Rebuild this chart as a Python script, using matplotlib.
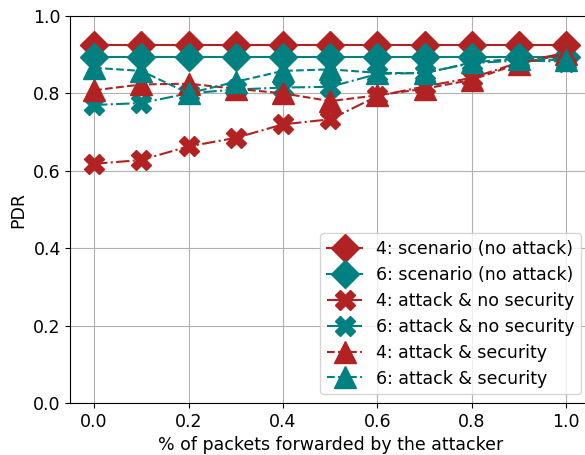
import matplotlib
matplotlib.use("Agg")
import matplotlib.pyplot as plt

# share of packets forwarded by the attacker
forwarded = [0.0, 0.1, 0.2, 0.3, 0.4, 0.5, 0.6, 0.7, 0.8, 0.9, 1.0]

# PDR per series
pdr_4_scenario = [0.925] * 11
pdr_6_scenario = [0.893] * 11
pdr_4_attack_nosec = [0.618, 0.628, 0.663, 0.685, 0.720, 0.733, 0.793, 0.818, 0.840, 0.880, 0.905]
pdr_6_attack_nosec = [0.770, 0.775, 0.800, 0.810, 0.815, 0.817, 0.850, 0.853, 0.878, 0.885, 0.882]
pdr_4_attack_sec = [0.808, 0.823, 0.825, 0.812, 0.800, 0.780, 0.795, 0.812, 0.835, 0.877, 0.902]
pdr_6_attack_sec = [0.866, 0.858, 0.800, 0.830, 0.858, 0.862, 0.853, 0.852, 0.880, 0.890, 0.885]

red = '#b22222'
teal = '#008080'
fs = 12.5

fig, ax = plt.subplots(figsize=(5.85, 4.55), dpi=100)
# the right spine sits just outside the picture, as in the original crop
fig.subplots_adjust(left=0.1205, right=1.0085, top=0.965, bottom=0.114)

ms = 14.5
ax.plot(forwarded, pdr_4_scenario, '-', marker='D', color=red, markersize=ms, label='4: scenario (no attack)')
ax.plot(forwarded, pdr_6_scenario, '-', marker='D', color=teal, markersize=ms, label='6: scenario (no attack)')
ax.plot(forwarded, pdr_4_attack_nosec, '-.', marker='X', color=red, markersize=ms, label='4: attack & no security')
ax.plot(forwarded, pdr_6_attack_nosec, '-.', marker='X', color=teal, markersize=ms, label='6: attack & no security')
ax.plot(forwarded, pdr_4_attack_sec, '--', marker='^', color=red, markersize=ms + 1, label='4: attack & security')
ax.plot(forwarded, pdr_6_attack_sec, '--', marker='^', color=teal, markersize=ms + 1, label='6: attack & security')

ax.set_ylim(0, 1.0)
ax.set_xlim(-0.05, 1.05)
ax.set_xlabel('% of packets forwarded by the attacker', fontsize=fs)
ax.set_ylabel('PDR', fontsize=fs)
ax.tick_params(labelsize=fs)
ax.grid(True)
ax.legend(loc='lower right', fontsize=fs, labelspacing=0.45)

fig.savefig('out.png', dpi=100)
